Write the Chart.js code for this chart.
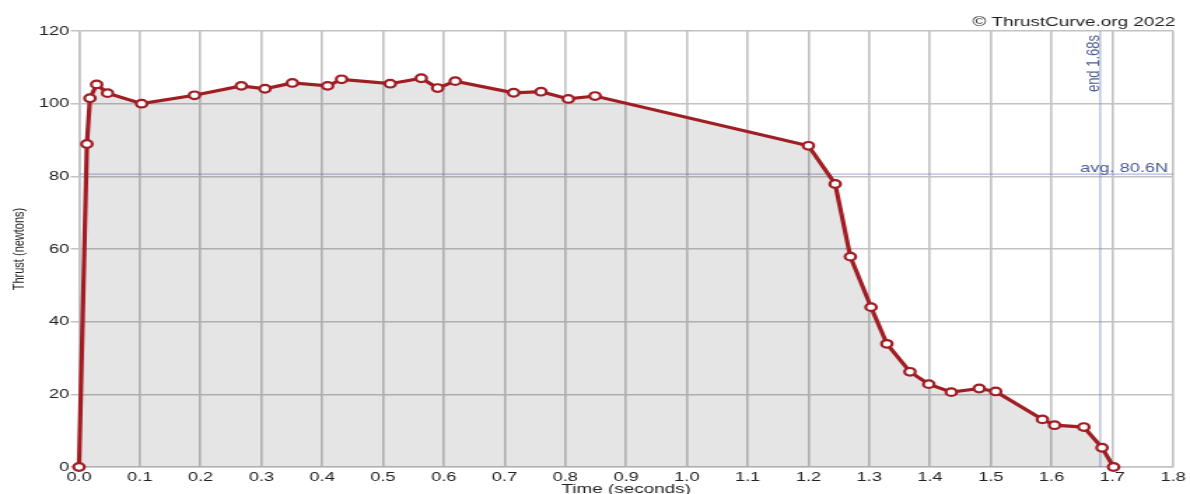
<!DOCTYPE html>
<html>
<head>
<meta charset="utf-8">
<title>Thrust curve</title>
<script src="https://cdn.jsdelivr.net/npm/chart.js@4.4.1/dist/chart.umd.min.js"></script>
<style>
  html, body { margin: 0; padding: 0; background: #fff; overflow: hidden; }
  /* the chart is drawn narrower and widened horizontally, giving the wide-glyph look */
  #wrap { width: 850px; height: 494px; transform: scaleX(1.4); transform-origin: 0 0; }
  #thrust { display: block; }
</style>
</head>
<body>
<div id="wrap"><canvas id="thrust" width="850" height="494"></canvas></div>
<script>
// Motor thrust curve samples
const timeSec = [0.000, 0.013, 0.018, 0.029, 0.047, 0.103, 0.190, 0.267, 0.306, 0.351,
                 0.409, 0.432, 0.512, 0.563, 0.590, 0.619, 0.715, 0.760, 0.805, 0.849,
                 1.200, 1.244, 1.269, 1.303, 1.329, 1.367, 1.398, 1.435, 1.481, 1.508,
                 1.585, 1.605, 1.653, 1.683, 1.702];
const thrustN = [0.0, 88.9, 101.5, 105.3, 102.9, 100.0, 102.3, 104.9, 104.1, 105.7,
                 104.9, 106.7, 105.5, 107.0, 104.3, 106.2, 103.0, 103.3, 101.3, 102.1,
                 88.4, 77.9, 57.9, 44.0, 33.9, 26.2, 22.8, 20.6, 21.6, 20.8,
                 13.1, 11.5, 11.0, 5.3, 0.0];

const avgThrust = 80.6;   // N
const burnEnd = 1.68;     // s

const timeTicks = [0.0, 0.1, 0.2, 0.3, 0.4, 0.5, 0.6, 0.7, 0.8, 0.9,
                   1.0, 1.1, 1.2, 1.3, 1.4, 1.5, 1.6, 1.7, 1.8];
const thrustTicks = [0, 20, 40, 60, 80, 100, 120];

const FONT = '"Liberation Sans", Arial, Helvetica, sans-serif';
const GRID = '#c2c2c2';
const CURVE = '#a11d24';
const REF_LINE = 'rgba(110, 130, 200, 0.55)';
const REF_TEXT = '#4b5b8e';

const curvePoints = timeSec.map((t, i) => ({ x: t, y: thrustN[i] }));
const tMin = timeTicks[0], tMax = timeTicks[timeTicks.length - 1];
const fMin = thrustTicks[0], fMax = thrustTicks[thrustTicks.length - 1];

// Text labels: copyright, average and burn-end markers
const notes = {
  id: 'notes',
  afterDraw(chart) {
    const { ctx, chartArea: a, scales: { x, y } } = chart;
    ctx.save();
    ctx.textBaseline = 'alphabetic';
    ctx.textAlign = 'right';
    ctx.fillStyle = '#222';
    ctx.font = '13.5px ' + FONT;
    ctx.fillText('\u00A9 ThrustCurve.org 2022', a.right + 1.5, 25.5);

    ctx.fillStyle = REF_TEXT;
    ctx.font = '13px ' + FONT;
    ctx.fillText('avg. ' + avgThrust + 'N', a.right - 3.5, y.getPixelForValue(avgThrust) - 2.5);

    ctx.translate(x.getPixelForValue(burnEnd) - 1.2, a.top + 4);
    ctx.rotate(-Math.PI / 2);
    ctx.textAlign = 'right';
    ctx.fillText('end ' + burnEnd + 's', 0, 0);
    ctx.restore();
  }
};

new Chart(document.getElementById('thrust'), {
  type: 'line',
  data: {
    datasets: [
      {
        label: 'Thrust',
        data: curvePoints,
        order: 0,
        clip: false,
        borderColor: CURVE,
        borderWidth: 3.2,
        backgroundColor: 'rgba(0, 0, 0, 0.1)',
        fill: 'origin',
        tension: 0,
        pointRadius: 3.8,
        pointBorderWidth: 2.2,
        pointBackgroundColor: '#fff',
        pointBorderColor: CURVE
      },
      {
        label: 'Average',
        data: [{ x: tMin, y: avgThrust }, { x: tMax, y: avgThrust }],
        order: 1,
        borderColor: REF_LINE,
        borderWidth: 1.3,
        pointRadius: 0,
        fill: false
      },
      {
        label: 'End',
        data: [{ x: burnEnd, y: fMin }, { x: burnEnd, y: fMax }],
        order: 2,
        borderColor: REF_LINE,
        borderWidth: 1.3,
        pointRadius: 0,
        fill: false
      }
    ]
  },
  options: {
    responsive: false,
    animation: false,
    devicePixelRatio: 1,
    layout: { padding: { top: 31, right: 10.71, bottom: 0, left: 0 } },
    plugins: { legend: { display: false }, tooltip: { enabled: false } },
    scales: {
      x: {
        type: 'linear',
        min: tMin,
        max: tMax,
        afterBuildTicks: s => { s.ticks = timeTicks.map(v => ({ value: v })); },
        afterFit: s => { s.height = 27; },
        grid: { color: GRID, lineWidth: 1.6, drawTicks: false },
        border: { color: GRID, width: 1.6 },
        ticks: {
          autoSkip: false, maxRotation: 0, padding: 3,
          color: '#222', font: { family: FONT, size: 13 },
          callback: v => Number(v).toFixed(1)
        },
        title: {
          display: true, text: 'Time (seconds)', color: '#222',
          font: { family: FONT, size: 13.5 }, padding: { top: 0, bottom: -3 }
        }
      },
      y: {
        min: fMin,
        max: fMax,
        afterBuildTicks: s => { s.ticks = thrustTicks.map(v => ({ value: v })); },
        afterFit: s => { s.width = 56.43; },
        grid: { color: GRID, lineWidth: 1.5, tickLength: 6 },
        border: { color: GRID, width: 1.6 },
        ticks: { padding: 1, color: '#222', font: { family: FONT, size: 13 } },
        title: {
          display: true, text: 'Thrust (newtons)', color: '#222',
          font: { family: FONT, size: 11 }, padding: { top: 7, bottom: 0 }
        }
      }
    }
  },
  plugins: [notes]
});
</script>
</body>
</html>
